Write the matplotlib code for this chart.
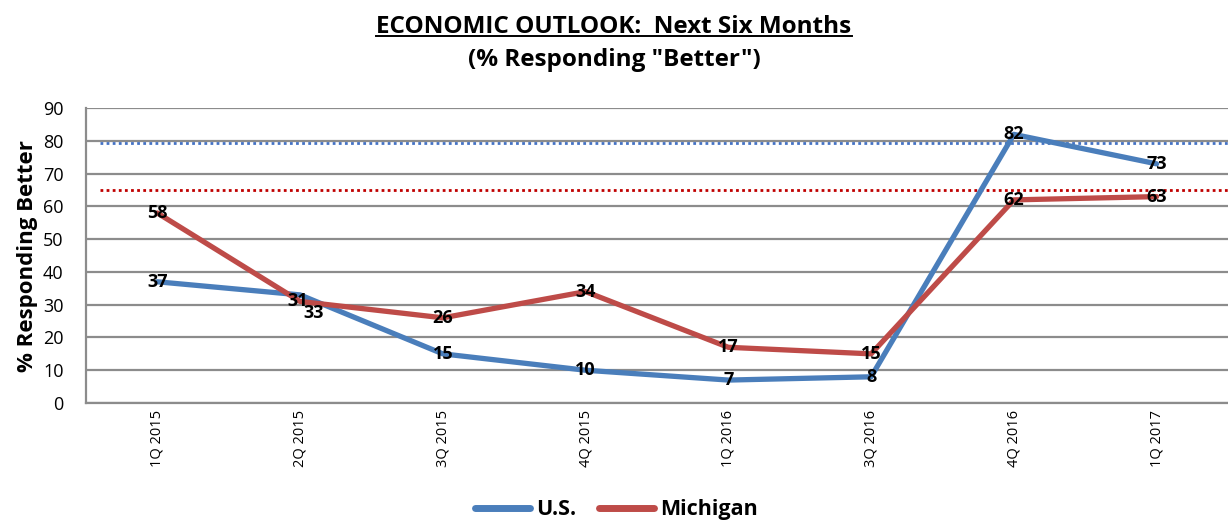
import matplotlib
matplotlib.use("Agg")
import matplotlib.pyplot as plt
from matplotlib.lines import Line2D

plt.rcParams['font.family'] = ['Open Sans', 'DejaVu Sans']

categories = ["1Q 2015", "2Q 2015", "3Q 2015", "4Q 2015", "1Q 2016", "3Q 2016", "4Q 2016", "1Q 2017"]
us = [37, 33, 15, 10, 7, 8, 82, 73]
michigan = [58, 31, 26, 34, 17, 15, 62, 63]
us_ref = 79.5
mi_ref = 65
yticks = list(range(0, 91, 10))

blue = "#4A7EBB"
red = "#BE4B48"

fig = plt.figure(figsize=(12.28, 5.2), dpi=100)
ax = fig.add_axes([0.070, 0.225, 0.930, 0.567])

x = list(range(len(categories)))
ax.set_xlim(-0.5, len(categories) - 0.5)
ax.set_ylim(0, 90)

for y in yticks:
    ax.axhline(y, color="#8c8c8c", lw=1.6, zorder=1)

ax.plot([-0.4, 7.5], [us_ref, us_ref], color="#4472C4", lw=2, ls=(0, (1, 1.2)), zorder=2)
ax.plot([-0.4, 7.5], [mi_ref, mi_ref], color="#C00000", lw=2, ls=(0, (1, 1.2)), zorder=2)

ax.plot(x, us, color=blue, lw=3.8, solid_capstyle="round", zorder=3, label="U.S.")
ax.plot(x, michigan, color=red, lw=3.8, solid_capstyle="round", zorder=3, label="Michigan")

lab_kw = dict(fontsize=13, fontweight="bold", ha="center", va="center", zorder=5)
for i, v in enumerate(us):
    off = (10, -13) if i == 1 else (0, 0)
    ax.annotate(str(v), (i, v), xytext=off, textcoords="offset points", **lab_kw)
for i, v in enumerate(michigan):
    off = (-2, 0) if i == 1 else (0, 0)
    ax.annotate(str(v), (i, v), xytext=off, textcoords="offset points", **lab_kw)

ax.set_yticks(yticks)
ax.set_yticklabels([str(t) for t in yticks], fontsize=13)
ax.set_xticks(x)
ax.set_xticklabels(categories, rotation=90, fontsize=10.5)
ax.tick_params(axis="y", length=0, pad=16)
ax.tick_params(axis="x", length=0, pad=5)
for s in ["top", "right"]:
    ax.spines[s].set_visible(False)
for s in ["left", "bottom"]:
    ax.spines[s].set_color("#8c8c8c")
    ax.spines[s].set_linewidth(1.6)

ax.set_ylabel("% Responding Better", fontsize=16, fontweight="bold", labelpad=4)

t1 = fig.text(0.5, 0.949, "ECONOMIC OUTLOOK:  Next Six Months", ha="center", va="center",
              fontsize=17.5, fontweight="bold")
fig.text(0.5, 0.884, '(% Responding "Better")', ha="center", va="center",
         fontsize=17.5, fontweight="bold")

fig.canvas.draw()
bb = t1.get_window_extent().transformed(fig.transFigure.inverted())
fig.add_artist(Line2D([bb.x0, bb.x1], [bb.y0 + 0.004, bb.y0 + 0.004], color="black", lw=1.4,
                      transform=fig.transFigure))

leg = fig.legend(handles=[Line2D([], [], color=blue, lw=5, solid_capstyle="round"),
                          Line2D([], [], color=red, lw=5, solid_capstyle="round")],
                 labels=["U.S.", "Michigan"], loc="center", bbox_to_anchor=(0.502, 0.02),
                 ncol=2, frameon=False, prop={"size": 15.5, "weight": "bold"},
                 handlelength=2.55, handletextpad=0.25, columnspacing=1.1)

fig.savefig("out.png", dpi=100)
